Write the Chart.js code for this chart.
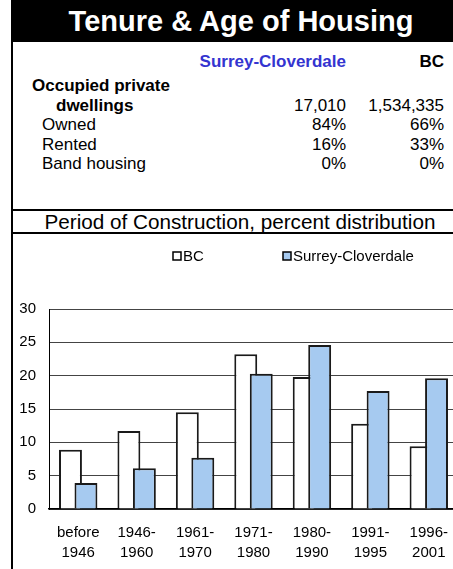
<!DOCTYPE html>
<html>
<head>
<meta charset="utf-8">
<script src="https://cdn.jsdelivr.net/npm/chart.js@4.4.1/dist/chart.umd.min.js"></script>
<style>
  body { margin: 0; width: 453px; height: 569px; overflow: hidden; background: #fff;
         font-family: "Liberation Sans", Arial, sans-serif; color: #000; position: relative; }
  #frame { position: absolute; left: 11px; top: 0; width: 458px; height: 569px; border-left: 2px solid #000; }
  #title { position: absolute; left: 11px; top: 0; width: 460px; height: 42px; background: #000;
           color: #fff; font-weight: bold; font-size: 29px; line-height: 42px; text-align: center; }
  .hdr { position: absolute; top: 52px; line-height: 20px; font-size: 17px; font-weight: bold; text-align: right; }
  #rows { position: absolute; left: 0; top: 76px; width: 453px; }
  .row { position: relative; height: 19.5px; line-height: 19.5px; font-size: 17px; }
  .row .lab { position: absolute; left: 42px; }
  .row .v1 { position: absolute; left: 200px; width: 146px; text-align: right; }
  .row .v2 { position: absolute; left: 350px; width: 94px; text-align: right; }
  .row.b .lab { font-weight: bold; }
  #sep1 { position: absolute; left: 11px; top: 209px; width: 460px; height: 2px; background: #000; }
  #sub { position: absolute; left: 11px; top: 211px; width: 458px; text-align: center; font-size: 20.7px; line-height: 22px; }
  #sep2 { position: absolute; left: 11px; top: 232px; width: 460px; height: 2px; background: #000; }
  #box { position: absolute; left: 13px; top: 234px; width: 457px; height: 335px; }
</style>
</head>
<body>
<div id="frame"></div>
<div id="title">Tenure &amp; Age of Housing</div>
<div class="hdr" style="left:150px;width:196px;color:#3434d0;">Surrey-Cloverdale</div>
<div class="hdr" style="left:350px;width:94px;">BC</div>
<div id="rows"></div>
<div id="sep1"></div>
<div id="sub">Period of Construction, percent distribution</div>
<div id="sep2"></div>
<div id="box"><canvas id="barChart" width="457" height="335"></canvas></div>

<script>
// tenure table
const tenureLabels = ["Occupied private", "dwellings", "Owned", "Rented", "Band housing"];
const tenureSurrey = ["", "17,010", "84%", "16%", "0%"];
const tenureBC = ["", "1,534,335", "66%", "33%", "0%"];

// period of construction chart
const periods = [["before", "1946"], ["1946-", "1960"], ["1961-", "1970"], ["1971-", "1980"],
                 ["1980-", "1990"], ["1991-", "1995"], ["1996-", "2001"]];
const bcValues = [8.9, 11.7, 14.5, 23.2, 19.8, 12.8, 9.4];
const surreyValues = [3.9, 6.1, 7.7, 20.3, 24.6, 17.7, 19.6];
const yTicks = [0, 5, 10, 15, 20, 25, 30];

const rows = document.getElementById("rows");
tenureLabels.forEach((lab, i) => {
  const r = document.createElement("div");
  r.className = "row" + (i < 2 ? " b" : "");
  const l = document.createElement("span");
  l.className = "lab";
  l.textContent = lab;
  if (i === 0) l.style.left = "32px";
  if (i === 1) l.style.left = "56px";
  const a = document.createElement("span");
  a.className = "v1";
  a.textContent = tenureSurrey[i];
  const b = document.createElement("span");
  b.className = "v2";
  b.textContent = tenureBC[i];
  r.append(l, a, b);
  rows.appendChild(r);
});

// Surrey bars sit on top of the BC bars
const drawOrder = {
  id: "drawOrder",
  beforeDatasetsDraw(chart) {
    chart.getSortedVisibleDatasetMetas().forEach(m => m.controller.draw());
    return false;
  }
};

const legendRow = {
  id: "legendRow",
  afterDraw(chart, args, opts) {
    const ctx = chart.ctx;
    ctx.save();
    ctx.font = "15px 'Liberation Sans', Arial";
    ctx.textBaseline = "middle";
    chart.data.datasets.forEach((ds, i) => {
      const x = opts.x[i], y = opts.y;
      ctx.fillStyle = ds.backgroundColor;
      ctx.fillRect(x, y - 4, 8, 8);
      ctx.strokeStyle = "#000";
      ctx.lineWidth = 1.5;
      ctx.strokeRect(x, y - 4, 8, 8);
      ctx.fillStyle = "#000";
      ctx.fillText(ds.label, x + 10, y + 1);
    });
    ctx.restore();
  }
};

const barCtx = document.getElementById("barChart").getContext("2d");
new Chart(barCtx, {
  type: "bar",
  data: {
    labels: periods,
    datasets: [
      {
        label: "BC",
        backgroundColor: "#ffffff",
        borderColor: "#1a1a1a",
        borderWidth: 2,
        data: bcValues,
      },
      {
        label: "Surrey-Cloverdale",
        backgroundColor: "#a6caf0",
        borderColor: "#1a1a1a",
        borderWidth: 2,
        data: surreyValues,
      },
    ],
  },
  options: {
    responsive: false,
    animation: false,
    categoryPercentage: 0.53,
    barPercentage: 1.48,
    layout: { padding: { top: 75, right: 12, left: 0, bottom: 0 } },
    plugins: {
      legend: { display: false },
      tooltip: { enabled: false },
      legendRow: { x: [160, 270], y: 22 },
    },
    scales: {
      x: {
        grid: { display: false, drawTicks: false },
        border: { display: true, color: "#000", width: 1.5 },
        ticks: { color: "#000", font: { family: "'Liberation Sans', Arial", size: 15, lineHeight: 1.33 }, padding: 14, maxRotation: 0 },
        afterFit(scale) { scale.height = 60; },
      },
      y: {
        min: 0,
        max: 30,
        afterBuildTicks(scale) { scale.ticks = yTicks.map(v => ({ value: v })); },
        grid: { color: "#444", lineWidth: 1, drawTicks: false },
        border: { display: true, color: "#000", width: 1 },
        ticks: { color: "#000", font: { family: "'Liberation Sans', Arial", size: 15 }, padding: 13 },
        afterFit(scale) { scale.width = 36; },
      },
    },
  },
  plugins: [drawOrder, legendRow],
});
</script>
</body>
</html>
